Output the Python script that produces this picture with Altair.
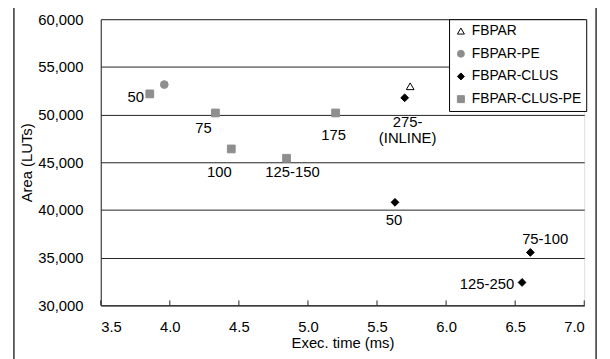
import altair as alt
import pandas as pd

# ---- data ----
series_order = ["FBPAR", "FBPAR-PE", "FBPAR-CLUS", "FBPAR-CLUS-PE"]

fbpar_x = [5.74]
fbpar_y = [52970]

fbpar_pe_x = [3.96]
fbpar_pe_y = [53150]

clus_x = [5.70, 5.63, 6.61, 6.55]
clus_y = [51760, 40800, 35550, 32400]
clus_labels = ["275-\n(INLINE)", "50", "75-100", "125-250"]

clus_pe_x = [3.855, 4.33, 4.445, 4.845, 5.20]
clus_pe_y = [52170, 50170, 46400, 45420, 50170]
clus_pe_labels = ["50", "75", "100", "125-150", "175"]

x_ticks = [3.5, 4.0, 4.5, 5.0, 5.5, 6.0, 6.5, 7.0]
y_ticks = [30000, 35000, 40000, 45000, 50000, 55000, 60000]

# ---- tables ----
rows = []
for x, y in zip(fbpar_x, fbpar_y):
    rows.append({"t": x, "a": y, "series": "FBPAR"})
for x, y in zip(fbpar_pe_x, fbpar_pe_y):
    rows.append({"t": x, "a": y, "series": "FBPAR-PE"})
for x, y in zip(clus_x, clus_y):
    rows.append({"t": x, "a": y, "series": "FBPAR-CLUS"})
for x, y in zip(clus_pe_x, clus_pe_y):
    rows.append({"t": x, "a": y, "series": "FBPAR-CLUS-PE"})
points = pd.DataFrame(rows)

W, H = 490, 290
xs = alt.Scale(domain=[3.5, 7.0], nice=False, zero=False)
ys = alt.Scale(domain=[30000, 60000], nice=False, zero=False)

FONT = "Liberation Sans"
GRAY = "#8e8e8e"

legend = alt.Legend(
    title=None, orient="none", legendX=353, legendY=0,
    fillColor="white", strokeColor="black",
    padding=5, rowPadding=9, labelFontSize=14, labelFont=FONT,
    labelColor="black", symbolSize=50, symbolStrokeWidth=1,
    labelOffset=4, labelLimit=200,
)

base_x = alt.X("t:Q", scale=xs,
               axis=alt.Axis(values=x_ticks, format=".1f", title="Exec. time (ms)",
                             grid=False, ticks=False, labelPadding=15,
                             labelFontSize=15, titleFontSize=15, titlePadding=1,
                             domainColor="#222", labelColor="black",
                             titleColor="black", titleFontWeight="normal",
                             labelFont=FONT, titleFont=FONT))
base_y = alt.Y("a:Q", scale=ys,
               axis=alt.Axis(values=y_ticks, format=",.0f", title="Area (LUTs)",
                             grid=True, gridColor="#222", gridWidth=1, gridOpacity=1,
                             ticks=False, labelPadding=18, labelFontSize=15,
                             titleFontSize=15, titlePadding=3,
                             domainColor="#222", labelColor="black",
                             titleColor="black", titleFontWeight="normal",
                             labelFont=FONT, titleFont=FONT))

pts = alt.Chart(points).mark_point(filled=True, size=62, strokeWidth=1, opacity=1).encode(
    x=base_x,
    y=base_y,
    shape=alt.Shape("series:N", scale=alt.Scale(domain=series_order,
                    range=["triangle-up", "circle", "diamond", "square"]), legend=legend),
    fill=alt.Fill("series:N", scale=alt.Scale(domain=series_order,
                  range=["transparent", GRAY, "black", GRAY]), legend=legend),
    stroke=alt.Stroke("series:N", scale=alt.Scale(domain=series_order,
                      range=["black", GRAY, "black", GRAY]), legend=legend),
)

# tick marks pointing into the plot
tick_df = pd.DataFrame({"t": x_ticks})
ticks = alt.Chart(tick_df).mark_rule(color="#222", strokeWidth=1).encode(
    x=alt.X("t:Q", scale=xs), y=alt.value(H - 5), y2=alt.value(H))

# outer frame
frame = alt.Chart(pd.DataFrame({"k": [0]})).mark_rect(
    fillOpacity=0, stroke="#333", strokeWidth=1.5).encode(
    x=alt.value(-88), x2=alt.value(502), y=alt.value(-12), y2=alt.value(360))

# point labels (offsets are styling)
label_style = [
    (clus_pe_x[0], clus_pe_y[0], clus_pe_labels[0], "right", -6, 3),
    (clus_pe_x[1], clus_pe_y[1], clus_pe_labels[1], "center", -12, 15),
    (clus_pe_x[2], clus_pe_y[2], clus_pe_labels[2], "center", -12, 23),
    (clus_pe_x[3], clus_pe_y[3], clus_pe_labels[3], "center", 6, 14),
    (clus_pe_x[4], clus_pe_y[4], clus_pe_labels[4], "center", -2, 22),
    (clus_x[0], clus_y[0], clus_labels[0], "center", 3, 25),
    (clus_x[1], clus_y[1], clus_labels[1], "center", -1, 18),
    (clus_x[2], clus_y[2], clus_labels[2], "center", 15, -14),
    (clus_x[3], clus_y[3], clus_labels[3], "right", -8, 2),
]
texts = []
for x, y, txt, al, dx, dy in label_style:
    texts.append(
        alt.Chart(pd.DataFrame({"t": [x], "a": [y], "lab": [txt]})).mark_text(
            align=al, baseline="middle", dx=dx, dy=dy, fontSize=15, font=FONT,
            color="black", lineBreak="\n", lineHeight=16).encode(
            x=alt.X("t:Q", scale=xs), y=alt.Y("a:Q", scale=ys), text="lab:N")
    )

chart = alt.layer(frame, pts, ticks, *texts).properties(
    width=W, height=H,
    autosize="none",
    padding={"left": 94, "top": 9, "right": 18, "bottom": 52},
).configure_view(stroke=None, fill="#c8c9cb").configure(background="white")

chart.save("out.html", embed_options={"renderer": "svg", "actions": False})
